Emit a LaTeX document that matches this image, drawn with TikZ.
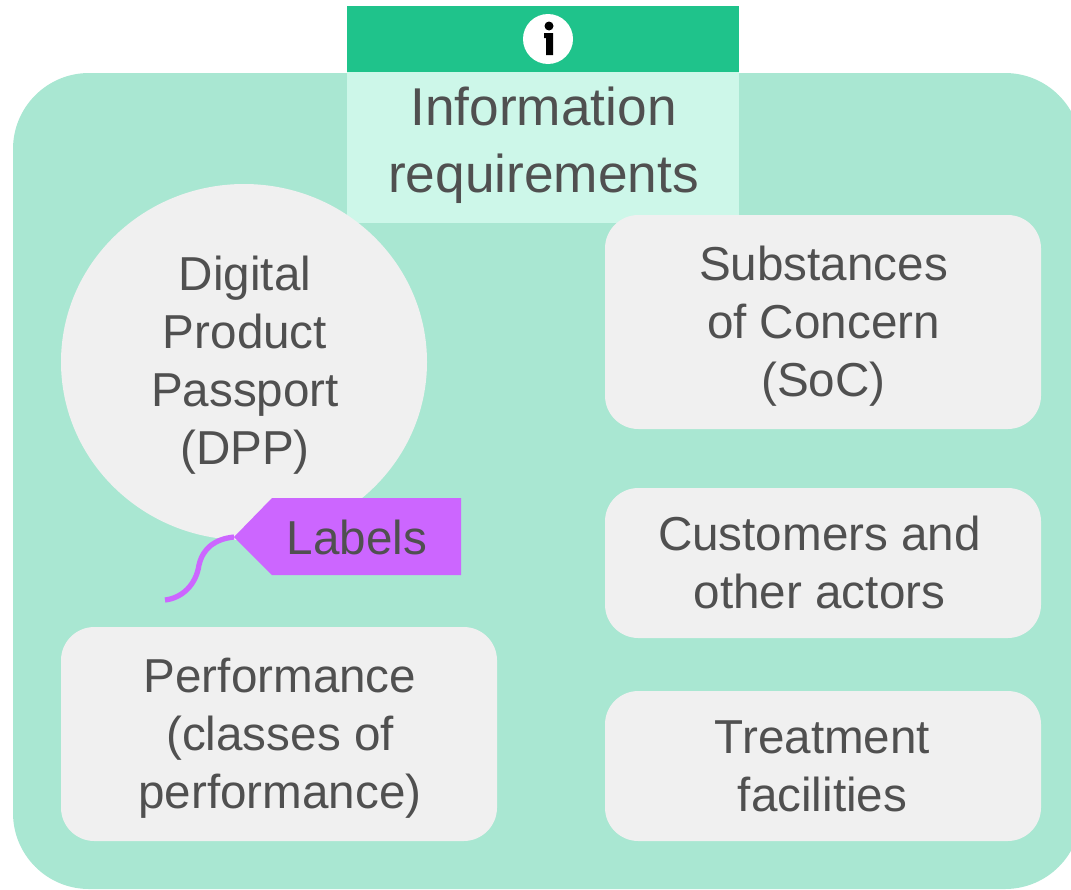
\documentclass[tikz,border=0pt]{standalone}
\usepackage{fontspec}
\usetikzlibrary{shapes.geometric}
\setmainfont{Liberation Sans}
\definecolor{panelgreen}{HTML}{A9E7D2}
\definecolor{headgreen}{HTML}{1FC38B}
\definecolor{titlegreen}{HTML}{CDF7E9}
\definecolor{boxgray}{HTML}{F0F0F0}
\definecolor{taglilac}{HTML}{CC66FF}
\definecolor{textgray}{HTML}{505050}
\tikzset{
  box/.style={fill=boxgray,rounded corners=19pt,minimum width=436*0.02cm,inner sep=0pt},
  boxtext/.style={align=center,text=textgray,font=\fontsize{27.1}{33}\selectfont,inner sep=0pt},
  titletext/.style={align=center,text=textgray,font=\fontsize{30.3}{38}\selectfont,inner sep=0pt}
}
\begin{document}
\begin{tikzpicture}[x=0.02cm,y=-0.02cm]
\useasboundingbox (0,0) rectangle (1071,889);
\clip (0,0) rectangle (1071,889);
\fill[panelgreen,rounded corners=1.52cm] (13,73) rectangle (1081,889);
% header
\fill[headgreen] (347,6) rectangle (739,72);
\fill[titlegreen] (347,72) rectangle (739,223);
\node[titletext] (title) at (543.5,145) {Information\\requirements};
% info icon
\node[circle,fill=white,minimum size=50*0.02cm,inner sep=0pt] (icon) at (548,39) {};
\fill[black] (549,26) circle (4.5);
\fill[black] (544,33) -- (553,33) -- (553,55) -- (546,55) -- (546,38) -- (544,38) -- cycle;
% ellipse
\node[ellipse,fill=boxgray,minimum width=366*0.02cm,minimum height=356*0.02cm,inner sep=0pt] (dpp) at (244,362) {};
\node[boxtext] (dpptext) at (245,365.5) {Digital\\Product\\Passport\\(DPP)};
% boxes
\node[box,minimum height=214*0.02cm] (soc) at (823,322) {};
\node[boxtext] (soctext) at (823.5,326) {Substances\\of Concern\\(SoC)};
\node[box,minimum height=150*0.02cm] (actors) at (823,563) {};
\node[boxtext] (actorstext) at (819.5,562) {Customers and\\other actors};
\node[box,minimum height=150*0.02cm] (facilities) at (823,766) {};
\node[boxtext] (facilitiestext) at (822.5,766) {Treatment\\facilities};
\node[box,minimum height=214*0.02cm] (perf) at (279,734) {};
\node[boxtext] (perftext) at (280,738) {Performance\\(classes of\\performance)};
% tag
\coordinate (tagtip) at (234,537);
\coordinate (stringend) at (165,600);
\fill[taglilac] (tagtip) -- (272,498) -- (461,498) -- (461,575) -- (272,575) -- cycle;
\node[boxtext] (labels) at (357,537) {Labels};
\draw[taglilac,line width=3pt] (tagtip) .. controls (215,539) and (203,548) .. (199,565) .. controls (196,585) and (182,598) .. (stringend);
\end{tikzpicture}
\end{document}
